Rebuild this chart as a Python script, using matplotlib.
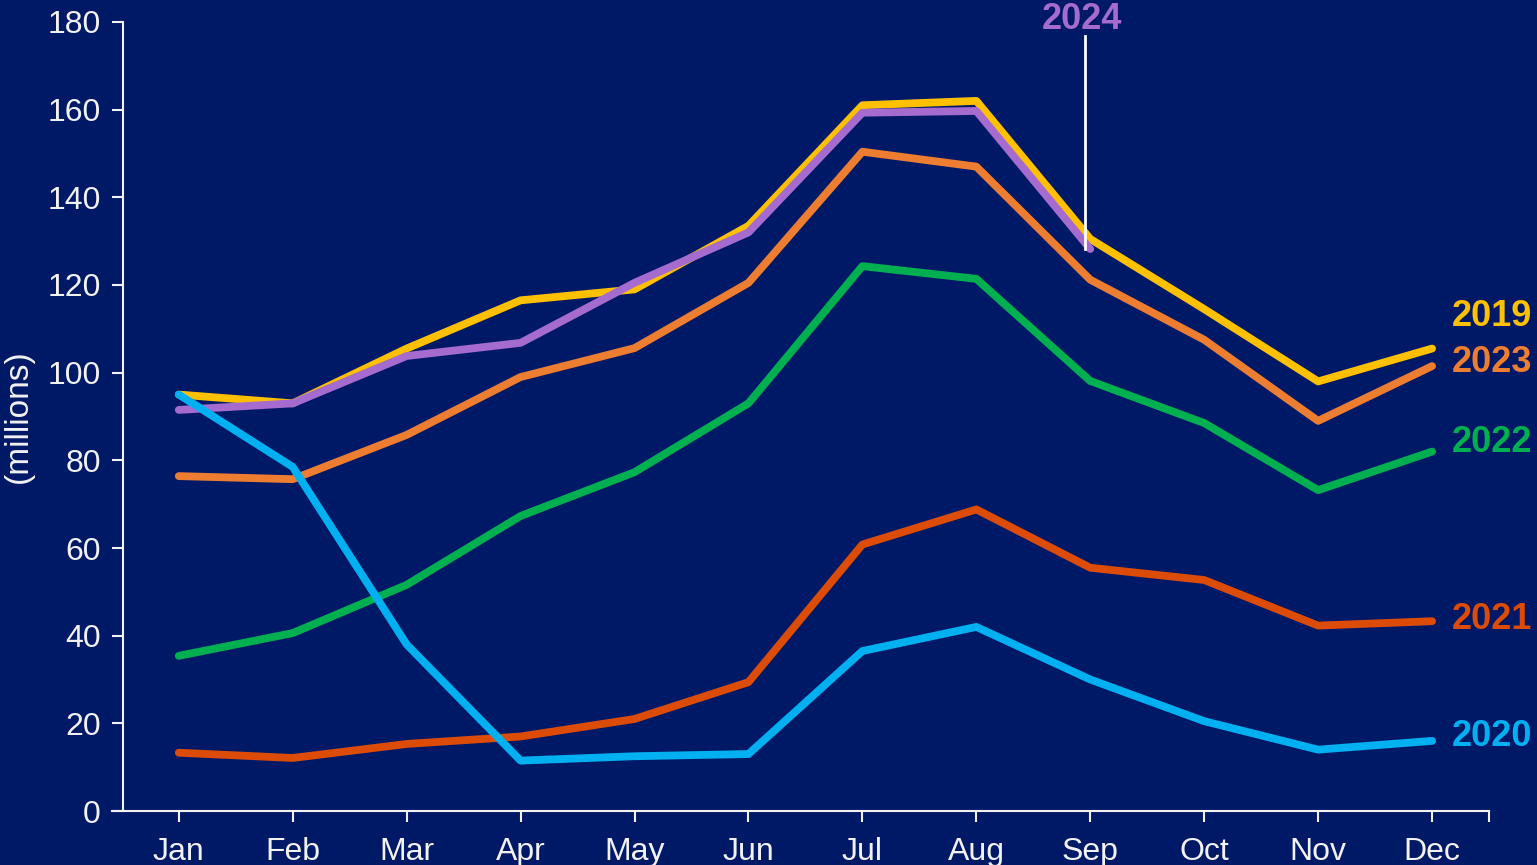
import matplotlib
matplotlib.use("Agg")
import matplotlib.pyplot as plt

months = ["Jan", "Feb", "Mar", "Apr", "May", "Jun", "Jul", "Aug", "Sep", "Oct", "Nov", "Dec"]
y2019 = [95, 93, 105.5, 116.5, 119, 133.5, 161, 162, 130.5, 114.5, 98, 105.5]
y2020 = [95, 78.5, 38, 11.5, 12.5, 13, 36.5, 42, 30, 20.5, 14, 16]
y2021 = [13.3, 12.1, 15.3, 17, 21, 29.4, 60.8, 68.8, 55.5, 52.7, 42.3, 43.3]
y2022 = [35.4, 40.6, 51.6, 67.3, 77.3, 93, 124.3, 121.4, 98.1, 88.5, 73.2, 82]
y2023 = [76.4, 75.7, 85.8, 99, 105.6, 120.5, 150.4, 147, 121.2, 107.5, 89, 101.5]
y2024 = [91.5, 93, 103.8, 106.8, 120.5, 132, 159.3, 159.7, 128.2]

yticks = [0, 20, 40, 60, 80, 100, 120, 140, 160, 180]

BG = "#001966"
FG = "#F2F2F2"
C2019 = "#FFC000"
C2020 = "#00B0F0"
C2021 = "#DC4C06"
C2022 = "#00B050"
C2023 = "#ED7D31"
C2024 = "#A66BCF"

plt.rcParams['font.family'] = ['Liberation Sans', 'DejaVu Sans']

fig = plt.figure(figsize=(15.37, 8.65), dpi=100, facecolor=BG)
ax = fig.add_axes([0.080, 0.0624, 0.8888, 0.9122], facecolor=BG)

x = list(range(len(months)))
lw = 5.6
kw = dict(linewidth=lw, solid_capstyle="round", solid_joinstyle="round", clip_on=False)
ax.plot(x, y2019, color=C2019, zorder=2, **kw)
ax.plot(x, y2023, color=C2023, zorder=3, **kw)
ax.plot(x, y2022, color=C2022, zorder=4, **kw)
ax.plot(x, y2021, color=C2021, zorder=5, **kw)
ax.plot(x[:len(y2024)], y2024, color=C2024, zorder=6, **kw)
ax.plot(x, y2020, color=C2020, zorder=7, **kw)

ax.set_xlim(-0.49, 11.5)
ax.set_ylim(0, 180)

ax.set_xticks(x + [11.5])
ax.set_xticklabels(months + [""])
ax.set_yticks(yticks)
ax.set_yticklabels([str(v) for v in yticks])

for s in ["top", "right"]:
    ax.spines[s].set_visible(False)
for s in ["left", "bottom"]:
    ax.spines[s].set_color(FG)
    ax.spines[s].set_linewidth(1.5)
ax.spines["bottom"].set_bounds(-0.59, 11.5)

ax.tick_params(axis="both", colors=FG, labelcolor=FG, length=8, width=1.5,
               labelsize=23, direction="out")
ax.tick_params(axis="x", pad=11)
ax.tick_params(axis="y", pad=8)

ax.set_ylabel("(millions)", color=FG, fontsize=24, labelpad=10)

# end labels
lab_kw = dict(fontsize=26, fontweight="bold", va="center", ha="left", clip_on=False)
ax.text(11.17, y2019[-1] + 7.3, "2019", color=C2019, **lab_kw)
ax.text(11.17, y2023[-1] + 0.8, "2023", color=C2023, **lab_kw)
ax.text(11.17, y2022[-1] + 2.1, "2022", color=C2022, **lab_kw)
ax.text(11.17, y2021[-1] + 0.3, "2021", color=C2021, **lab_kw)
ax.text(11.17, y2020[-1] + 1.0, "2020", color=C2020, **lab_kw)

# 2024 callout
ax.plot([7.95, 7.95], [y2024[-1], 176.8], color="white", linewidth=2, zorder=8, clip_on=False)
ax.text(7.93, 178.5, "2024", color=C2024, fontsize=26, fontweight="bold",
        ha="center", va="baseline", clip_on=False)

fig.savefig("out.png", dpi=100, facecolor=BG)
